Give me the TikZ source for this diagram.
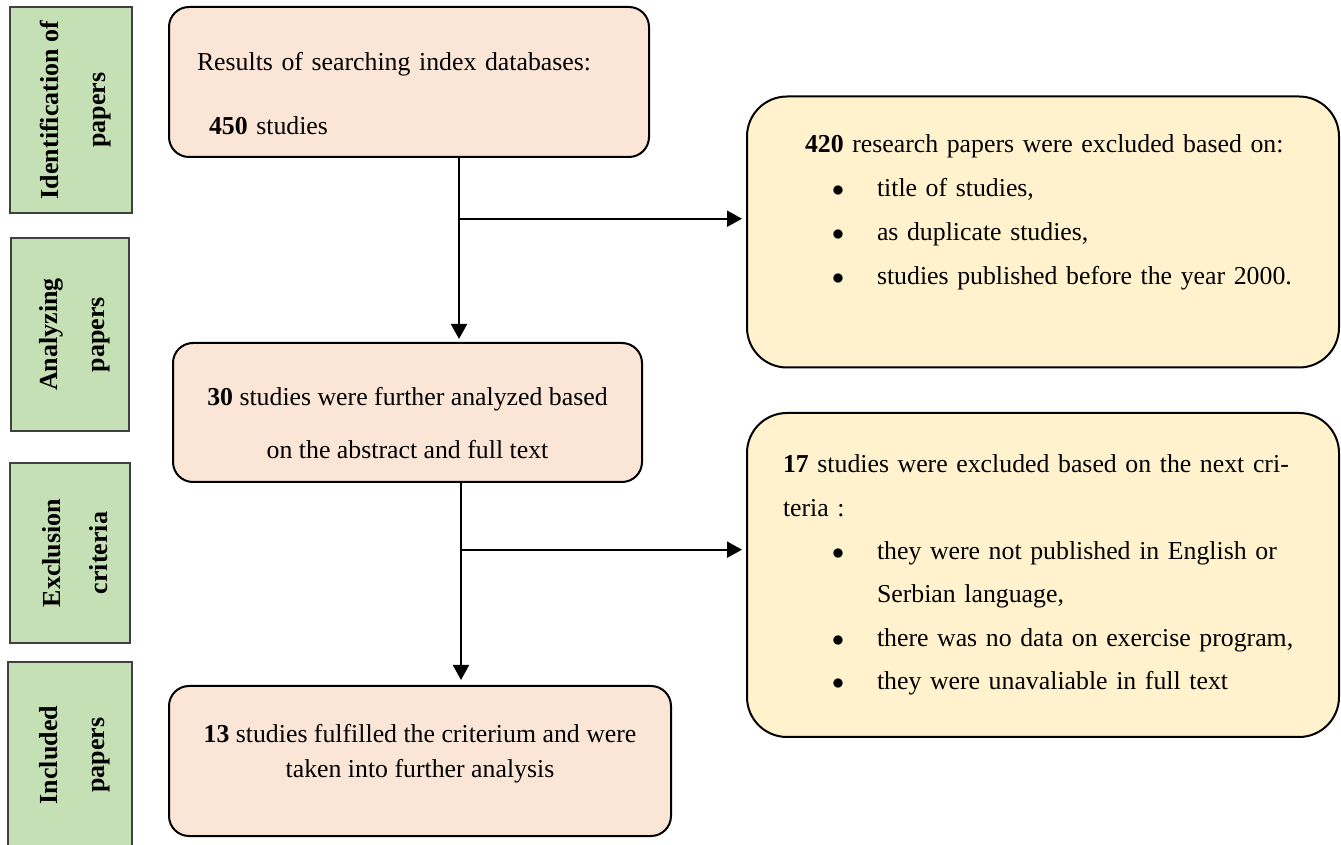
\documentclass[tikz,border=0pt]{standalone}
\usepackage{fontspec}
\setmainfont{Liberation Serif}
\usepackage{xcolor}
\usetikzlibrary{positioning,arrows.meta,calc}

\definecolor{stagegreen}{HTML}{C5E0B4}
\definecolor{resultpink}{HTML}{FBE5D6}
\definecolor{exclyellow}{HTML}{FFF2CC}
\newcommand{\critem}{\hspace*{24.5pt}\makebox[22.5pt][l]{$\bullet$}}

\begin{document}
\begin{tikzpicture}[
  x=0.5pt, y=-0.5pt,
  stage/.style={draw=black!75, line width=0.6pt, fill=stagegreen, rotate=90,
                align=center, inner sep=0pt, font=\fontsize{13}{23.5}\selectfont\bfseries},
  box/.style={draw, line width=1pt, inner sep=0pt},
  result/.style={box, rounded corners=10pt, fill=resultpink},
  excl/.style={box, rounded corners=20pt, fill=exclyellow, align=left,
               inner xsep=18pt, text width=260pt},
  arrow/.style={-{Triangle[length=7.5pt,width=8pt]}, line width=1pt},
]
\useasboundingbox (0,0) rectangle (1341,845);

% stages on the left
\node[stage, minimum width=103pt, minimum height=61pt] (g1) at (71,110)
  {\rule{0pt}{14pt}Identification of\\papers};
\node[stage, minimum width=96.5pt, minimum height=59pt] (g2) at (70,334.5)
  {\rule{0pt}{14pt}Analyzing\\papers};
\node[stage, minimum width=90pt, minimum height=60pt] (g3) at (70,553)
  {\rule{0pt}{14pt}Exclusion\\criteria};
\node[stage, minimum width=93pt, minimum height=62pt] (g4) at (70,755)
  {\rule{0pt}{14pt}Included\\papers};

% main flow
\node[result, text width=212pt, inner xsep=14pt, minimum height=75pt, align=left,
      font=\fontsize{12.9}{22}\selectfont] (p1) at (409,82)
  {\rule{0pt}{21pt}Results of searching index databases:\\[10pt]\hspace*{6pt}\textbf{450} studies};
\node[result, minimum width=234.5pt, minimum height=69.5pt, align=center,
      font=\fontsize{12.9}{26.5}\selectfont] (p2) at (407.5,412.5)
  {\rule{0pt}{20pt}\textbf{30} studies were further analyzed based\\on the abstract and full text};
\node[result, minimum width=251pt, minimum height=75pt, align=center,
      font=\fontsize{12.9}{17.5}\selectfont] (p3) at (420,761)
  {\textbf{13} studies fulfilled the criterium and were\\taken into further analysis\rule[-10pt]{0pt}{10pt}};

% exclusions
\node[excl, minimum height=135.5pt, font=\fontsize{12.9}{22}\selectfont] (y1) at (1043,232)
  {\hspace*{11pt}\textbf{420} research papers were excluded based on:\\
   \critem title of studies,\\
   \critem as duplicate studies,\\
   \critem studies published before the year 2000.\rule[-22pt]{0pt}{22pt}};
\node[excl, minimum height=162pt, font=\fontsize{12.9}{21.7}\selectfont] (y2) at (1043,575)
  {\textbf{17} studies were excluded based on the next cri-\\
   teria :\\
   \critem they were not published in English or\\
   \hspace*{47pt}Serbian language,\\
   \critem there was no data on exercise program,\\
   \critem they were unavaliable in full text};

% connectors
\coordinate (a1) at ($(p1.south)+(50,0)$);
\coordinate (b1) at ($(a1)!0.33!(a1 |- p2.north)$);
\draw[arrow, shorten >=1.5pt] (a1) -- (a1 |- p2.north);
\draw[arrow, shorten >=2pt] (b1) -- (b1 -| y1.west);
\coordinate (a2) at ($(p2.south)+(53.5,0)$);
\coordinate (b2) at ($(a2)!0.33!(a2 |- p3.north)$);
\draw[arrow, shorten >=2.5pt] (a2) -- (a2 |- p3.north);
\draw[arrow, shorten >=2pt] (b2) -- (b2 -| y2.west);
\end{tikzpicture}
\end{document}
